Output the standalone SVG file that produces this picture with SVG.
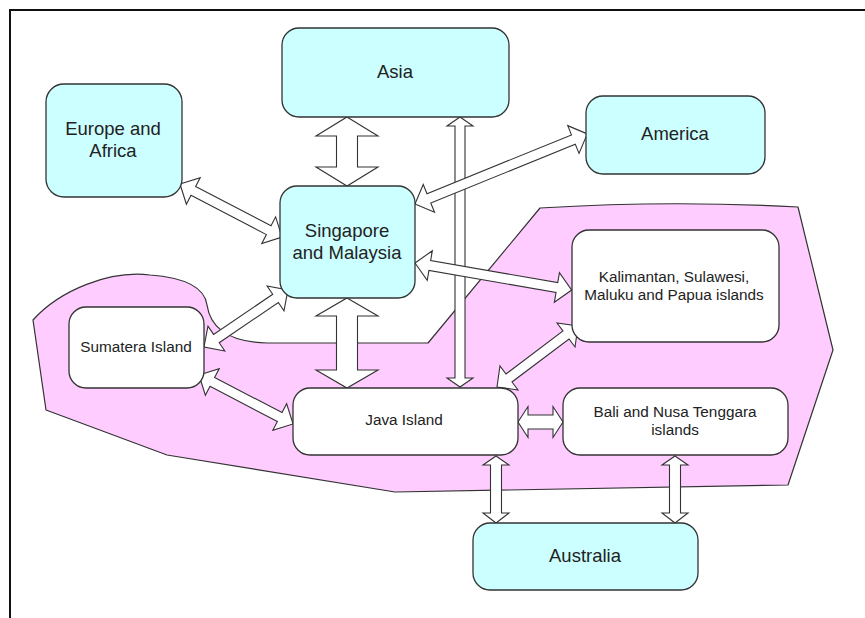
<svg xmlns="http://www.w3.org/2000/svg" width="865" height="618" viewBox="0 0 865 618">
<style>
.frame{fill:none;stroke:#111;stroke-width:2}
.region{fill:#FFCCFF;stroke:#333;stroke-width:1.2;stroke-linejoin:round}
.cyan{fill:#CCFFFF;stroke:#333;stroke-width:1.3}
.white{fill:#FFFFFF;stroke:#333;stroke-width:1.3}
.arr{fill:#FFFFFF;stroke:#333;stroke-width:1.1;stroke-linejoin:miter}
text{font-family:"Liberation Sans",Arial,sans-serif;fill:#222;text-anchor:middle}
.big{font-size:18.5px}
.small{font-size:15.3px}
</style>
<rect x="0" y="0" width="865" height="618" fill="#FFFFFF"/>
<path class="frame" d="M10,618 L10,10 L865,10"/>
<path id="region" class="region" d="M540,208 Q670,200 798,207 L833,350 L788,485 L395,492 L167,455 L46,410 L33,320 C60,290 110,270 150,275 C190,278 205,290 207,305 C210,325 225,342 267,343 L428,343 Z"/>
<g id="connectors">
<path class="arr" transform="translate(347,117) rotate(90)" d="M0,0 L19,-31 L19,-10.5 L50,-10.5 L50,-31 L69,0 L50,31 L50,10.5 L19,10.5 L19,31 Z"/>
<path class="arr" transform="translate(347,298) rotate(90)" d="M0,0 L18,-31 L18,-10.5 L72,-10.5 L72,-31 L90,0 L72,31 L72,10.5 L18,10.5 L18,31 Z"/>
<path class="arr" transform="translate(460,117) rotate(90)" d="M0,0 L9,-13 L9,-5 L261,-5 L261,-13 L270,0 L261,13 L261,5 L9,5 L9,13 Z"/>
<path class="arr" transform="translate(180,184) rotate(27.5)" d="M0,0 L15,-15 L15,-5 L100,-5 L100,-15 L115,0 L100,15 L100,5 L15,5 L15,15 Z"/>
<path class="arr" transform="translate(415,204) rotate(-22.15)" d="M0,0 L15,-15 L15,-5 L171,-5 L171,-15 L186,0 L171,15 L171,5 L15,5 L15,15 Z"/>
<path class="arr" transform="translate(415,263) rotate(9.8)" d="M0,0 L15,-15 L15,-5 L144,-5 L144,-15 L159,0 L144,15 L144,5 L15,5 L15,15 Z"/>
<path class="arr" transform="translate(204,347) rotate(-34.2)" d="M0,0 L15,-15 L15,-5 L86.5,-5 L86.5,-15 L101.5,0 L86.5,15 L86.5,5 L15,5 L15,15 Z"/>
<path class="arr" transform="translate(199,375) rotate(27.5)" d="M0,0 L15,-15 L15,-5 L91,-5 L91,-15 L106,0 L91,15 L91,5 L15,5 L15,15 Z"/>
<path class="arr" transform="translate(497,387) rotate(-37)" d="M0,0 L15,-15 L15,-5 L86.4,-5 L86.4,-15 L101.4,0 L86.4,15 L86.4,5 L15,5 L15,15 Z"/>
<path class="arr" transform="translate(518,422)" d="M0,0 L10,-15.5 L10,-7 L35,-7 L35,-15.5 L45,0 L35,15.5 L35,7 L10,7 L10,15.5 Z"/>
<path class="arr" transform="translate(496,456) rotate(90)" d="M0,0 L9,-13 L9,-5.5 L57,-5.5 L57,-13 L67,0 L57,13 L57,5.5 L9,5.5 L9,13 Z"/>
<path class="arr" transform="translate(675,456) rotate(90)" d="M0,0 L9,-13 L9,-5.5 L57,-5.5 L57,-13 L67,0 L57,13 L57,5.5 L9,5.5 L9,13 Z"/>
</g>
<g id="asia"><rect class="cyan" x="282" y="28" width="227" height="89" rx="17"/><text class="big" x="395" y="78">Asia</text></g>
<g id="europe"><rect class="cyan" x="46" y="84" width="136" height="113" rx="18"/><text class="big" x="113" y="135">Europe and</text><text class="big" x="113" y="157">Africa</text></g>
<g id="singapore"><rect class="cyan" x="280" y="186" width="135" height="112" rx="17"/><text class="big" x="347" y="237">Singapore</text><text class="big" x="347" y="259">and Malaysia</text></g>
<g id="america"><rect class="cyan" x="586" y="96" width="179" height="78" rx="17"/><text class="big" x="675" y="140">America</text></g>
<g id="kalimantan"><rect class="white" x="572" y="230" width="207" height="112" rx="17"/><text class="small" x="674" y="282">Kalimantan, Sulawesi,</text><text class="small" x="674" y="300">Maluku and Papua islands</text></g>
<g id="sumatera"><rect class="white" x="69" y="307" width="135" height="81" rx="17"/><text class="small" x="136" y="352">Sumatera Island</text></g>
<g id="java"><rect class="white" x="293" y="388" width="225" height="67" rx="17"/><text class="small" x="404" y="425">Java Island</text></g>
<g id="bali"><rect class="white" x="563" y="388" width="225" height="67" rx="17"/><text class="small" x="675" y="417">Bali and Nusa Tenggara</text><text class="small" x="675" y="435">islands</text></g>
<g id="australia"><rect class="cyan" x="473" y="523" width="225" height="67" rx="17"/><text class="big" x="585" y="562">Australia</text></g>
</svg>
